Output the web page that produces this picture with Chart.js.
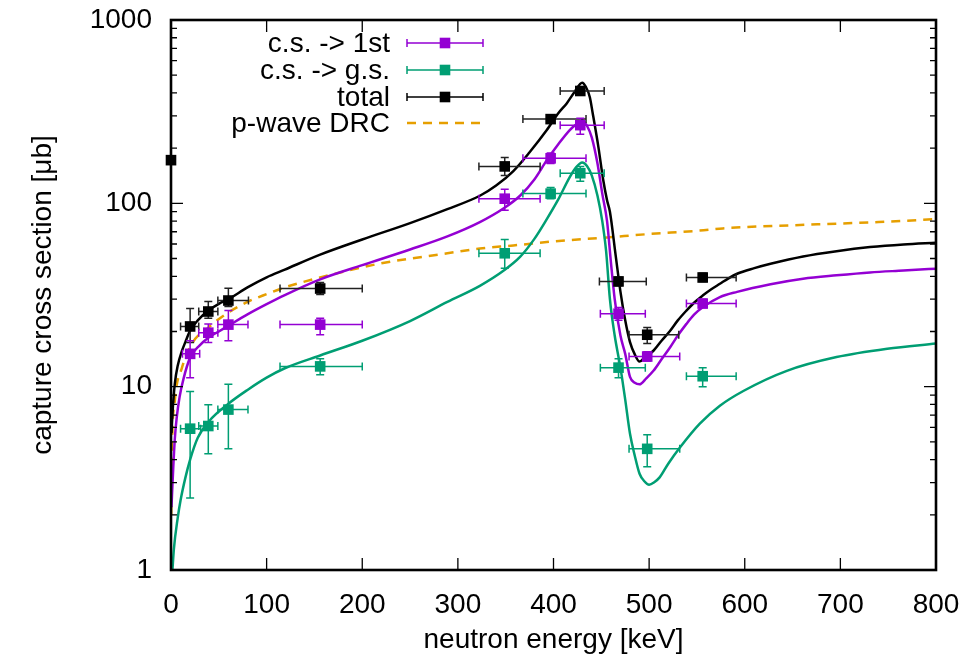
<!DOCTYPE html>
<html><head><meta charset="utf-8">
<script src="https://cdn.jsdelivr.net/npm/chart.js@4.4.1/dist/chart.umd.min.js"></script>
<style>html,body{margin:0;padding:0;background:#fff;}#wrap{width:970px;height:662px;}</style>
</head><body><div id="wrap"><canvas id="c" width="970" height="662"></canvas></div>
<script>
// ---------- data ----------
const xTickValues = [0, 100, 200, 300, 400, 500, 600, 700, 800];
const yTickLabels = [1, 10, 100, 1000];
const seriesNames = ['c.s. -> 1st', 'c.s. -> g.s.', 'total', 'p-wave DRC'];
const xTitle = 'neutron energy [keV]';
const yTitle = 'capture cross section [\u03bcb]';

// measured points: c.s. -> 1st
const firstE   = [20, 39, 60, 156, 349, 397, 428, 468, 498, 556];
const firstCS  = [15.1, 19.7, 21.8, 21.8, 106, 176, 267, 25, 14.6, 28.4];
const firstLo  = [11.2, 17.4, 17.8, 19.2, 91.6, 165, 238, 23, 13.8, 27];
const firstHi  = [17.8, 22, 26, 23.6, 119.5, 188, 291, 27, 15.5, 30];
const firstELo = [12, 29, 49, 114, 322, 368, 407, 449, 479, 539];
const firstEHi = [30, 49, 80.5, 200, 386, 434, 453, 496, 532, 591];

// measured points: c.s. -> g.s.
const gsE   = [20, 39, 60, 156, 349, 397, 428, 468, 498, 556];
const gsCS  = [5.9, 6.1, 7.5, 12.9, 53.4, 113, 146, 12.7, 4.58, 11.4];
const gsLo  = [2.47, 4.3, 4.58, 11.6, 44.2, 106, 132, 11.2, 3.66, 10];
const gsHi  = [9.4, 7.98, 10.3, 14.2, 63.5, 122, 159, 14.2, 5.47, 12.7];
const gsELo = [10, 29, 49, 114, 322, 368, 407, 449, 479, 539];
const gsEHi = [31, 49, 80.5, 200, 386, 434, 453, 496, 532, 591];

// measured points: total
const totE   = [0, 20, 39, 60, 156, 349, 397, 428, 468, 498, 556];
const totCS  = [172, 21.3, 25.7, 29.5, 34.3, 159, 288, 410, 37.5, 19.2, 39.4];
const totLo  = [172, 17.4, 23.6, 27.4, 31.8, 142, 275, 395, 35.5, 17.2, 37.5];
const totHi  = [172, 26.7, 29.1, 34.4, 37, 178, 300, 430, 39.5, 21, 41.5];
const totELo = [0, 10, 29, 49, 114, 322, 368, 407, 448, 479, 539];
const totEHi = [0, 29, 49, 81, 200, 386, 434, 453, 497, 531, 591];

// calculated curves
const totCurveE = [0.5, 2, 4, 7, 11.5, 15, 20, 28, 39, 50, 60, 80, 100, 119, 156, 200, 250, 289, 323, 340, 358, 375, 393, 405, 414, 422, 430, 434, 438, 441, 447, 452, 456, 459, 465, 470, 475, 480, 485, 490, 495, 504.5, 513, 522, 530, 539, 547, 556, 565, 574, 583, 592, 610, 627, 661, 696, 731, 766, 800];
const totCurveS = [5.6, 7.8, 10.4, 13, 15.7, 17.5, 20.2, 23, 26, 28.3, 30, 34.8, 39.5, 43.5, 52.5, 63.5, 78, 93, 110, 125, 150, 190, 251, 310, 352, 405, 455, 430, 379, 310, 202, 134, 104, 90, 52, 33, 23, 17.5, 15, 13.7, 14.4, 15.7, 17.8, 20.2, 23, 26, 28.7, 31.4, 34, 36.4, 39, 41.3, 44.3, 46.8, 51.3, 54.8, 57.7, 59.7, 61];

const firstCurveE = [0.5, 2, 4, 6, 9, 13, 20, 30, 39, 50, 60, 80, 100, 119, 156, 200, 250, 289, 323, 348, 365, 380, 393, 405, 417, 424, 430, 435, 440, 446, 451, 456, 460, 464, 470, 475, 480, 485, 490, 497, 504.5, 513, 522, 530, 539, 547, 556, 574, 592, 627, 661, 696, 731, 766, 800];
const firstCurveS = [2.2, 3.3, 5.2, 6.8, 8.8, 11, 14.4, 16.8, 18.5, 20, 21.5, 24.8, 28.2, 31.6, 38.5, 46, 56, 66, 79, 94, 110, 135, 172, 210, 251, 270, 284, 265, 229, 165, 113, 80, 48, 30, 19, 15.1, 11.3, 10.5, 10.3, 11.1, 12.2, 14.1, 16.4, 19, 22, 24.7, 27.1, 30.8, 32.9, 36.2, 38.8, 40.5, 42, 43, 44];

const gsCurveE = [1.5, 3, 7, 10, 15, 20, 28, 40, 60, 80, 100, 119, 156, 200, 250, 289, 323, 348, 365, 380, 393, 405, 417, 424, 430, 435, 440, 446, 451, 455, 459, 464, 470, 475, 480, 485, 490, 495, 500, 505, 511, 520, 532, 553, 574, 599, 644, 696, 749, 800];
const gsCurveS = [1.0, 1.3, 1.92, 2.4, 3.18, 4, 5.26, 6.5, 8.07, 9.6, 11.2, 12.6, 14.8, 17.8, 22.8, 29, 35.5, 43, 51, 64, 82, 105, 139, 158, 167, 160, 142, 110, 80, 55, 30, 19, 12.7, 8.5, 5.53, 4.2, 3.35, 3.05, 2.92, 3.0, 3.2, 3.8, 4.64, 6.28, 7.87, 9.5, 12.2, 14.5, 16.1, 17.2];

const drcCurveE = [0.2, 1, 4, 11.5, 22, 39, 60, 80, 100, 119, 156, 219, 289, 323, 358, 400, 456, 500, 553, 577, 676, 740, 800];
const drcCurveS = [2.0, 4.47, 8.4, 12.7, 17.2, 21, 25.4, 29, 32, 34.8, 39.4, 47, 53.4, 56.7, 58.9, 62, 65.2, 68, 71, 73, 76.8, 79, 82];

// ---------- styling ----------
const PURPLE = '#9400d3', GREEN = '#009e73', BLACK = '#000000', ORANGE = '#e69f00';
const FONT = 'Liberation Sans, Arial, Helvetica, sans-serif';
const FS = 28;

const pts = (xs, ys) => xs.map((x, i) => ({x: x, y: ys[i]}));

const lineDs = (label, xs, ys, color, dash) => ({
  type: 'line', label: label, data: pts(xs, ys), borderColor: color, borderWidth: 2.5,
  borderDash: dash || [], pointRadius: 0, cubicInterpolationMode: 'monotone', fill: false, order: 2
});
const pointDs = (label, xs, ys, color, err) => ({
  type: 'scatter', label: label, data: pts(xs, ys), showLine: false,
  pointStyle: 'rect', pointRadius: 7.5, pointHoverRadius: 7.5,
  backgroundColor: color, borderColor: color, borderWidth: 0, order: 1, clip: false, err: err
});

const errPlugin = {
  id: 'errbars',
  beforeDatasetDraw(chart, args) {
    const ds = chart.data.datasets[args.index];
    if (!ds.err) return;
    const xs = chart.scales.x, ys = chart.scales.y, ctx = chart.ctx, e = ds.err;
    const cap = 4;
    ctx.save();
    ctx.strokeStyle = e.color; ctx.lineWidth = 1.5;
    ds.data.forEach((p, i) => {
      const px = xs.getPixelForValue(p.x), py = ys.getPixelForValue(p.y);
      const x0 = xs.getPixelForValue(e.xlo[i]), x1 = xs.getPixelForValue(e.xhi[i]);
      const y0 = ys.getPixelForValue(e.ylo[i]), y1 = ys.getPixelForValue(e.yhi[i]);
      ctx.beginPath();
      if (x1 - x0 > 1) {
        ctx.moveTo(x0, py); ctx.lineTo(x1, py);
        ctx.moveTo(x0, py - cap); ctx.lineTo(x0, py + cap);
        ctx.moveTo(x1, py - cap); ctx.lineTo(x1, py + cap);
      }
      if (y0 - y1 > 1) {
        ctx.moveTo(px, y0); ctx.lineTo(px, y1);
        ctx.moveTo(px - cap, y0); ctx.lineTo(px + cap, y0);
        ctx.moveTo(px - cap, y1); ctx.lineTo(px + cap, y1);
      }
      ctx.stroke();
    });
    ctx.restore();
  }
};

const framePlugin = {
  id: 'frame',
  afterDraw(chart) {
    const {ctx, chartArea: a, scales: {x, y}} = chart;
    ctx.save();
    ctx.strokeStyle = '#000'; ctx.lineWidth = 1.3;
    ctx.beginPath();
    xTickValues.forEach(v => {
      const px = x.getPixelForValue(v);
      ctx.moveTo(px, a.bottom); ctx.lineTo(px, a.bottom - 12);
      ctx.moveTo(px, a.top); ctx.lineTo(px, a.top + 12);
    });
    for (let d = 0; d < 3; d++) {
      for (let m = 1; m <= 9; m++) {
        const v = m * Math.pow(10, d);
        const py = y.getPixelForValue(v);
        const len = m === 1 ? 12 : 6;
        ctx.moveTo(a.left, py); ctx.lineTo(a.left + len, py);
        ctx.moveTo(a.right, py); ctx.lineTo(a.right - len, py);
      }
    }
    ctx.stroke();
    ctx.lineWidth = 2.6;
    ctx.strokeRect(a.left, a.top, a.right - a.left, a.bottom - a.top);
    ctx.restore();
  }
};

const legendPlugin = {
  id: 'gpLegend',
  afterDraw(chart) {
    const ctx = chart.ctx;
    const colors = [PURPLE, GREEN, BLACK, ORANGE];
    const rows = [43, 70, 97, 123];
    const textX = 390, l0 = 407, l1 = 483, mid = 445;
    ctx.save();
    ctx.font = FS + 'px ' + FONT;
    ctx.textAlign = 'right'; ctx.textBaseline = 'middle';
    seriesNames.forEach((name, i) => {
      const yy = rows[i];
      ctx.fillStyle = '#000';
      ctx.fillText(name, textX, yy + 1);
      ctx.strokeStyle = colors[i];
      if (i < 3) {
        ctx.lineWidth = 1.5; ctx.setLineDash([]);
        ctx.beginPath();
        ctx.moveTo(l0, yy); ctx.lineTo(l1, yy);
        ctx.moveTo(l0, yy - 4); ctx.lineTo(l0, yy + 4);
        ctx.moveTo(l1, yy - 4); ctx.lineTo(l1, yy + 4);
        ctx.stroke();
        ctx.fillStyle = colors[i];
        ctx.fillRect(mid - 5.3, yy - 5.3, 10.6, 10.6);
      } else {
        ctx.lineWidth = 2.5; ctx.setLineDash([9, 7]);
        ctx.beginPath(); ctx.moveTo(l0, yy); ctx.lineTo(l1, yy); ctx.stroke();
      }
    });
    ctx.restore();
  }
};

new Chart(document.getElementById('c'), {
  type: 'scatter',
  data: {
    datasets: [
      pointDs(seriesNames[0], firstE, firstCS, PURPLE, {color: PURPLE, xlo: firstELo, xhi: firstEHi, ylo: firstLo, yhi: firstHi}),
      pointDs(seriesNames[1], gsE, gsCS, GREEN, {color: GREEN, xlo: gsELo, xhi: gsEHi, ylo: gsLo, yhi: gsHi}),
      pointDs(seriesNames[2], totE, totCS, BLACK, {color: '#222', xlo: totELo, xhi: totEHi, ylo: totLo, yhi: totHi}),
      lineDs('total curve', totCurveE, totCurveS, BLACK),
      lineDs('1st curve', firstCurveE, firstCurveS, PURPLE),
      lineDs('g.s. curve', gsCurveE, gsCurveS, GREEN),
      lineDs(seriesNames[3], drcCurveE, drcCurveS, ORANGE, [9, 7])
    ]
  },
  options: {
    responsive: false, animation: false, devicePixelRatio: 1,
    layout: {padding: {top: 20, right: 34, left: 0, bottom: 0}},
    plugins: {legend: {display: false}, tooltip: {enabled: false}},
    scales: {
      x: {
        type: 'linear', min: 0, max: 800,
        grid: {display: false, drawTicks: false}, border: {display: false},
        ticks: {stepSize: 100, color: '#000', font: {family: FONT, size: FS}, padding: 18, maxRotation: 0},
        title: {display: true, text: xTitle, color: '#000', font: {family: FONT, size: FS}, padding: {top: 0, bottom: 5}},
        afterFit(s) { s.height = 92; s.paddingLeft = 0; s.paddingRight = 0; }
      },
      y: {
        type: 'logarithmic', min: 1, max: 1000,
        grid: {display: false, drawTicks: false}, border: {display: false},
        ticks: {
          autoSkip: false, color: '#000', font: {family: FONT, size: FS}, padding: 19,
          callback: (v) => { const l = Math.log10(v); return Math.abs(l - Math.round(l)) < 1e-9 && yTickLabels.includes(Math.round(v)) ? String(Math.round(v)) : ''; }
        },
        title: {display: true, text: yTitle, color: '#000', font: {family: FONT, size: FS}, padding: {top: 26, bottom: 0}},
        afterFit(s) { s.width = 171; s.paddingTop = 0; s.paddingBottom = 0; }
      }
    }
  },
  plugins: [errPlugin, framePlugin, legendPlugin]
});
</script></body></html>
